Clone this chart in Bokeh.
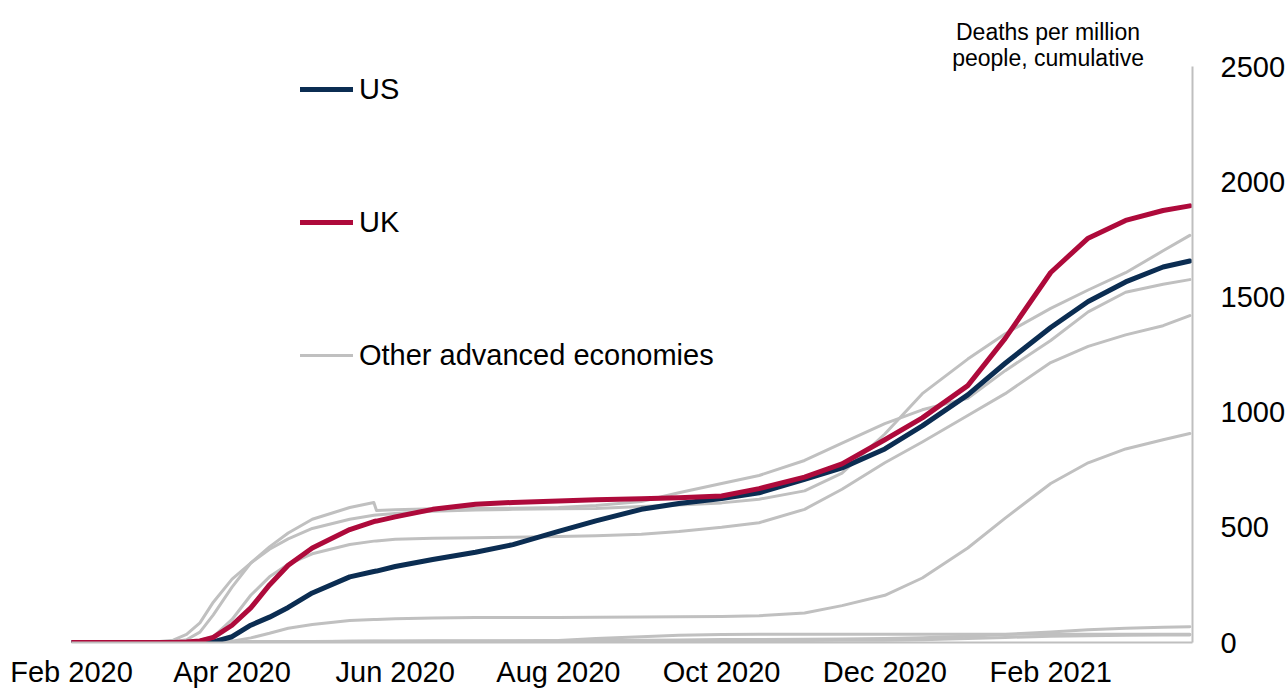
import pandas as pd
from bokeh.plotting import figure
from bokeh.models import (Range1d, FixedTicker, DatetimeTickFormatter, Legend,
                          LegendItem, Label)
from bokeh.embed import file_html
from bokeh.resources import INLINE

# ---------------- data (deaths per million people, cumulative) ----------------
dates = ["2020-02-01", "2020-03-01", "2020-03-10", "2020-03-15", "2020-03-20",
         "2020-03-25", "2020-04-01", "2020-04-08", "2020-04-15", "2020-04-22",
         "2020-05-01", "2020-05-15", "2020-05-24", "2020-05-25", "2020-06-01",
         "2020-06-15", "2020-07-01", "2020-07-15", "2020-08-01", "2020-08-15",
         "2020-09-01", "2020-09-15", "2020-10-01", "2020-10-15", "2020-11-01",
         "2020-11-15", "2020-12-01", "2020-12-15", "2021-01-01", "2021-01-15",
         "2021-02-01", "2021-02-15", "2021-03-01", "2021-03-15", "2021-03-25"]

us = [0, 0, 0, 0, 0, 3, 25, 75, 110, 152, 215, 285, 308, 310, 330,
      360, 392, 425, 482, 528, 578, 603, 625, 650, 708, 758, 840, 940,
      1075, 1212, 1367, 1480, 1565, 1630, 1656]

uk = [0, 0, 0, 2, 7, 22, 75, 150, 250, 335, 410, 490, 525, 527, 545,
      578, 600, 608, 614, 620, 624, 628, 636, 668, 718, 775, 880, 975,
      1115, 1320, 1606, 1755, 1832, 1875, 1895]

italy = [0, 0, 10, 35, 85, 175, 275, 345, 405, 450, 495, 535, 552, 553, 560,
         570, 575, 578, 580, 582, 590, 597, 606, 622, 658, 735, 905, 1080,
         1230, 1340, 1450, 1530, 1605, 1700, 1767]

spain = [0, 0, 2, 12, 45, 120, 240, 345, 415, 475, 535, 586, 608, 573, 576,
         580, 582, 583, 586, 595, 612, 650, 690, 725, 790, 865, 950, 1010,
         1060, 1180, 1311, 1435, 1520, 1555, 1575]

france = [0, 0, 0, 2, 10, 25, 100, 205, 285, 340, 385, 425, 440, 441, 448,
          452, 455, 457, 460, 463, 470, 482, 500, 520, 578, 665, 780, 870,
          985, 1080, 1215, 1285, 1335, 1375, 1419]

germany = [0, 0, 0, 0, 0.5, 2, 6, 20, 40, 62, 78, 95, 100, 100, 103,
           106, 108, 108, 109, 110, 111, 112, 113, 116, 128, 160, 205, 280,
           410, 540, 690, 780, 840, 880, 907]

japan = [0, 0, 0, 0, 0.2, 0.4, 0.6, 1, 1.5, 2.2, 3.5, 5, 6.5, 6.6, 7,
         7.5, 7.8, 7.9, 8, 8.5, 10, 11, 12.5, 13.5, 14, 15, 17, 21,
         27, 35, 46, 55, 62, 66, 68]

australia = [0, 0, 0, 0, 0.1, 0.3, 0.7, 1.7, 2.5, 3, 3.6, 3.8, 4, 4, 4,
             4, 4.1, 5.5, 9, 17, 25, 32, 35, 35.3, 35.4, 35.5, 35.5, 35.5,
             35.5, 35.6, 35.6, 35.6, 35.7, 35.7, 35.7]

korea = [0, 0.3, 1, 1.4, 2, 2.5, 3.2, 3.8, 4.3, 4.6, 4.8, 5, 5.2, 5.2, 5.3,
         5.4, 5.5, 5.6, 5.8, 6, 6.3, 7.3, 8.1, 8.5, 9, 9.5, 10.2, 12,
         17.5, 22, 27, 29, 31, 32.5, 33]

others = [italy, spain, france, germany, japan, australia, korea]

tick_dates = ["2020-02-01", "2020-04-01", "2020-06-01", "2020-08-01",
              "2020-10-01", "2020-12-01", "2021-02-01"]
y_ticks = [0, 500, 1000, 1500, 2000, 2500]
y_axis_max = 2500

x_start, x_end = "2020-02-01", "2021-03-26"
unit_line1 = "Deaths per million"
unit_line2 = "people, cumulative"
unit_date = "2021-01-31"
unit_y1, unit_y2 = 2648, 2535

# ---------------- layout / styling ----------------
NAVY = "#0b2d52"
RED = "#ae0a3b"
GREY = "#c0c0c0"
AXIS_GREY = "#bfbfbf"
FONT = "Liberation Sans"

W, H = 1288, 690
BORDER_TOP, BORDER_BOTTOM = 10, 48
AXIS_TOP_PX = 66          # pixel row where the 2500 level sits
frame_h = H - BORDER_TOP - BORDER_BOTTOM
y_top = y_axis_max * frame_h / (H - BORDER_BOTTOM - AXIS_TOP_PX)


def ms(d):
    return pd.Timestamp(d).value / 1e6


x = pd.to_datetime(dates)

p = figure(width=W, height=H, output_backend="svg", toolbar_location=None,
           x_axis_type="datetime", y_axis_location="right",
           x_range=Range1d(pd.Timestamp(x_start), pd.Timestamp(x_end)),
           y_range=Range1d(0, y_top),
           min_border_left=71, min_border_right=96,
           min_border_top=BORDER_TOP, min_border_bottom=BORDER_BOTTOM)
p.outline_line_color = None
p.grid.visible = False
p.background_fill_color = "white"
p.border_fill_color = "white"

grey_renderers = []
for series in others:
    r = p.line(x, series, line_color=GREY, line_width=3,
               line_join="round", line_cap="round")
    grey_renderers.append(r)

us_r = p.line(x, us, line_color=NAVY, line_width=5, line_join="round", line_cap="round")
uk_r = p.line(x, uk, line_color=RED, line_width=5, line_join="round", line_cap="round")

# axes
xa = p.xaxis[0]
xa.ticker = FixedTicker(ticks=[ms(d) for d in tick_dates])
xa.formatter = DatetimeTickFormatter(days="%b %Y", months="%b %Y", years="%b %Y")
xa.axis_line_color = AXIS_GREY
xa.axis_line_width = 2
xa.major_tick_line_color = None
xa.minor_tick_line_color = None
xa.major_tick_out = 0
xa.major_tick_in = 0
xa.minor_tick_out = 0
xa.major_label_text_font = FONT
xa.major_label_text_font_size = "29px"
xa.major_label_text_color = "black"
xa.major_label_standoff = 13

ya = p.yaxis[0]
ya.ticker = FixedTicker(ticks=y_ticks)
ya.bounds = (0, y_axis_max)
ya.axis_line_color = AXIS_GREY
ya.axis_line_width = 2
ya.major_tick_line_color = None
ya.minor_tick_line_color = None
ya.major_tick_out = 0
ya.major_tick_in = 0
ya.minor_tick_out = 0
ya.major_label_text_font = FONT
ya.major_label_text_font_size = "29px"
ya.major_label_text_color = "black"
ya.major_label_standoff = 28

# unit text above the axis
for txt, yv in [(unit_line1, unit_y1), (unit_line2, unit_y2)]:
    p.add_layout(Label(x=ms(unit_date), y=yv, text=txt, text_align="center",
                       text_baseline="middle", text_font=FONT,
                       text_font_size="23px", text_color="black"))

legend = Legend(items=[LegendItem(label="US", renderers=[us_r]),
                       LegendItem(label="UK", renderers=[uk_r]),
                       LegendItem(label="Other advanced economies",
                                  renderers=[grey_renderers[0]])],
                location=(229, 270), orientation="vertical",
                glyph_width=53, glyph_height=34, label_height=34,
                spacing=99, padding=0, margin=0, label_standoff=6,
                border_line_color=None, background_fill_alpha=0,
                label_text_font=FONT, label_text_font_size="29px",
                label_text_color="black")
p.add_layout(legend)

open("out.html", "w").write(file_html(p, INLINE))
